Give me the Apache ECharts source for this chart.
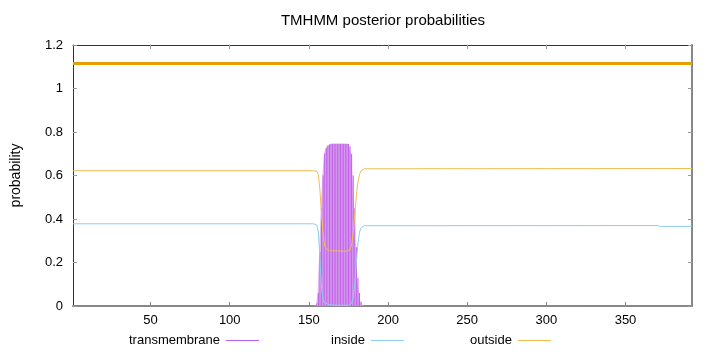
<!DOCTYPE html>
<html>
<head>
<meta charset="utf-8">
<script src="https://cdn.jsdelivr.net/npm/echarts@6/dist/echarts.min.js"></script>
<style>html,body{margin:0;padding:0;background:#fff}#c{width:720px;height:352px}</style>
</head>
<body>
<div id="c"></div>
<script>
// ---- data ----
const titleText = 'TMHMM posterior probabilities';
const yLabel = 'probability';
const residueRange = [1, 392];
const xTickValues = [50, 100, 150, 200, 250, 300, 350];
const yTickValues = [0, 0.2, 0.4, 0.6, 0.8, 1, 1.2];

// predicted topology line (all "outside")
const topologyLine = [[1, 1.115], [392, 1.115]];

// transmembrane posterior probability per residue
const tmMain = [
  [154,0.003],[155,0.012],[156,0.06],[157,0.25],[158,0.45],[159,0.60],[160,0.70],
  [161,0.725],[162,0.737],[163,0.742],[164,0.746],[165,0.746],[166,0.746],[167,0.746],
  [168,0.746],[169,0.746],[170,0.746],[171,0.746],[172,0.746],[173,0.746],[174,0.746],
  [175,0.745],[176,0.735],[177,0.70],[178,0.60],[179,0.45],[180,0.27],[181,0.13],
  [182,0.06],[183,0.02],[184,0.005]
];
const tmMinor = [
  [306,0.003],[307,0.004],[308,0.004],[309,0.004],[310,0.005],[311,0.005],[312,0.005],
  [313,0.005],[314,0.005],[315,0.005],[316,0.005],[317,0.005],[318,0.005],[319,0.005],
  [320,0.005],[321,0.005],[322,0.004],[323,0.004],[324,0.004],[325,0.004],[326,0.003],
  [327,0.003],[328,0.003],
  [371,0.003],[372,0.004],[373,0.004],[374,0.004],[375,0.004],[376,0.004],[377,0.004],
  [378,0.004],[379,0.004],[380,0.004],[381,0.004],[382,0.004],[383,0.004],[384,0.004],
  [385,0.004],[386,0.004],[387,0.004],[388,0.004],[389,0.004],[390,0.004],[391,0.004],
  [392,0.004]
];

// inside posterior probability
const insideProb = [
  [1,0.378],[153,0.378],[154,0.377],[155,0.372],[156,0.34],[157,0.22],[158,0.08],
  [159,0.03],[160,0.015],[161,0.01],[162,0.008],[163,0.006],[164,0.004],[165,0.003],
  [175,0.003],[176,0.006],[177,0.012],[178,0.04],[179,0.10],[180,0.20],[181,0.29],
  [182,0.34],[183,0.36],[184,0.367],[185,0.369],[186,0.370],[370,0.370],[372,0.366],
  [392,0.366]
];

// outside posterior probability
const outsideProb = [
  [1,0.622],[153,0.622],[154,0.621],[155,0.619],[156,0.605],[157,0.53],[158,0.42],
  [159,0.33],[160,0.275],[161,0.262],[162,0.256],[163,0.254],[164,0.252],[174,0.252],
  [175,0.255],[176,0.26],[177,0.28],[178,0.34],[179,0.42],[180,0.51],[181,0.57],
  [182,0.605],[183,0.622],[184,0.628],[185,0.631],[186,0.632],[392,0.632]
];

const FONT = '"Liberation Sans", Arial, Helvetica, sans-serif';
const C_TM = '#bf5fe6', C_IN = '#8ccff0', C_OUT = '#f0bd55';
const tmAll = tmMain.concat(tmMinor);
const tmFill = [[tmMain[0][0] - 1, 0]].concat(tmMain, [[tmMain[tmMain.length - 1][0] + 1, 0]]);

function legendAt(name, color, left) {
  return {
    data: [{name: name, icon: 'rect', itemStyle: {color: color, borderWidth: 0}}],
    left: left, top: 334, padding: 0, align: 'right',
    itemWidth: 33, itemHeight: 1, itemGap: 0,
    textStyle: {fontFamily: FONT, fontSize: 13, color: '#000', padding: [0, 1, 0, 0]}
  };
}

const chart = echarts.init(document.getElementById('c'), null, {renderer: 'canvas'});
chart.setOption({
  animation: false,
  backgroundColor: '#ffffff',
  title: {
    text: titleText, left: 383, top: 13, textAlign: 'center', padding: 0,
    textStyle: {fontFamily: FONT, fontSize: 15, fontWeight: 'normal', color: '#000'}
  },
  grid: {left: 73, right: 28, top: 45, bottom: 46},
  legend: [
    legendAt('transmembrane', C_TM, 129),
    legendAt('inside', C_IN, 331),
    legendAt('outside', C_OUT, 470)
  ],
  xAxis: [
    {type: 'value', min: residueRange[0], max: residueRange[1], position: 'bottom',
     axisLine: {show: true, onZero: false, lineStyle: {color: '#888', width: 2}},
     axisTick: {show: true, inside: true, length: 4, lineStyle: {color: '#888'}, customValues: xTickValues},
     axisLabel: {show: true, margin: 8, fontFamily: FONT, fontSize: 13, color: '#000', customValues: xTickValues},
     splitLine: {show: false}},
    {type: 'value', min: residueRange[0], max: residueRange[1], position: 'top',
     axisLine: {show: true, onZero: false, lineStyle: {color: '#333', width: 1}},
     axisTick: {show: true, inside: true, length: 4, lineStyle: {color: '#999'}, customValues: xTickValues},
     axisLabel: {show: false},
     splitLine: {show: false}}
  ],
  yAxis: [
    {type: 'value', min: 0, max: 1.2, interval: 0.2, position: 'left',
     name: yLabel, nameLocation: 'middle', nameRotate: 90, nameGap: 50,
     nameTextStyle: {fontFamily: FONT, fontSize: 14, color: '#000'},
     axisLine: {show: true, onZero: false, lineStyle: {color: '#333', width: 1}},
     axisTick: {show: true, inside: true, length: 4, lineStyle: {color: '#999'}},
     axisLabel: {show: true, margin: 10, fontFamily: FONT, fontSize: 13, color: '#000',
       formatter: v => String(Math.round(v * 10) / 10)},
     splitLine: {show: false}},
    {type: 'value', min: 0, max: 1.2, interval: 0.2, position: 'right',
     axisLine: {show: true, onZero: false, lineStyle: {color: '#888', width: 2}},
     axisTick: {show: true, inside: true, length: 4, lineStyle: {color: '#999'}},
     axisLabel: {show: false},
     splitLine: {show: false}}
  ],
  series: [
    {name: 'tmfill', type: 'line', step: 'middle', data: tmFill, symbol: 'none',
     lineStyle: {width: 0, opacity: 0}, areaStyle: {color: '#e2b8f4', opacity: 1},
     z: 1, silent: true},
    {name: 'transmembrane', type: 'bar', data: tmAll, barWidth: 0.75,
     itemStyle: {color: C_TM}, z: 2, silent: true},
    {name: 'topology', type: 'line', data: topologyLine, symbol: 'none',
     lineStyle: {color: '#e69f00', width: 3}, z: 3},
    {name: 'outside', type: 'line', data: outsideProb, symbol: 'none',
     lineStyle: {color: C_OUT, width: 1}, itemStyle: {color: C_OUT}, z: 4},
    {name: 'inside', type: 'line', data: insideProb, symbol: 'none',
     lineStyle: {color: C_IN, width: 1}, itemStyle: {color: C_IN}, z: 4}
  ]
});
</script>
</body>
</html>
